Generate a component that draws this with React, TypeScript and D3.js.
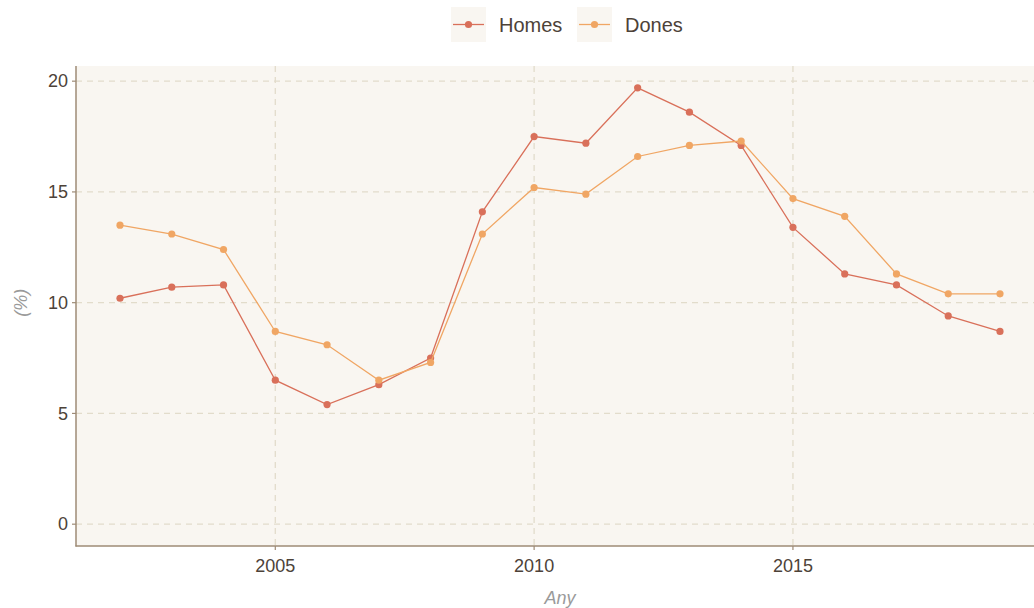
import * as d3 from "d3";

const years = [2002, 2003, 2004, 2005, 2006, 2007, 2008, 2009, 2010, 2011, 2012, 2013, 2014, 2015, 2016, 2017, 2018, 2019];
const homes = [10.2, 10.7, 10.8, 6.5, 5.4, 6.3, 7.5, 14.1, 17.5, 17.2, 19.7, 18.6, 17.1, 13.4, 11.3, 10.8, 9.4, 8.7];
const dones = [13.5, 13.1, 12.4, 8.7, 8.1, 6.5, 7.3, 13.1, 15.2, 14.9, 16.6, 17.1, 17.3, 14.7, 13.9, 11.3, 10.4, 10.4];
const seriesNames = ["Homes", "Dones"];
const xTicks = [2005, 2010, 2015];
const yTicks = [0, 5, 10, 15, 20];

const colors = ["#d9705a", "#f0a664"];
const font = "'Liberation Sans', Arial, sans-serif";

const W = 1034;
const H = 608;
const left = 76;
const top = 66;
const bottom = 546;

const App = () => {
  const x = d3.scaleLinear().domain([2001.15, 2019.85]).range([left, 1044]);
  const y = d3.scaleLinear().domain([-0.985, 20.685]).range([bottom, top]);

  const series = [homes, dones];
  const line = d3
    .line<number>()
    .x((_, i) => x(years[i]))
    .y((d) => y(d));

  const axisColor = "#9e8b76";
  const textColor = "#4d4238";
  const gridColor = "#e2dccb";

  return (
    <svg width={W} height={H} style={{ position: "absolute", left: 0, top: 0, background: "#fff" }} fontFamily={font}>
      {/* panel */}
      <rect x={left} y={top} width={W - left} height={bottom - top} fill="#f9f6f1" />

      {/* grid */}
      {yTicks.map((t) => (
        <line key={"gy" + t} x1={left} x2={W} y1={y(t)} y2={y(t)} stroke={gridColor} strokeWidth={1.3} strokeDasharray="6,5" />
      ))}
      {xTicks.map((t) => (
        <line key={"gx" + t} x1={x(t)} x2={x(t)} y1={top} y2={bottom} stroke={gridColor} strokeWidth={1.3} strokeDasharray="6,5" />
      ))}

      {/* series */}
      {series.map((s, k) => (
        <g key={seriesNames[k]}>
          <path d={line(s) ?? ""} fill="none" stroke={colors[k]} strokeWidth={1.3} />
          {s.map((v, i) => (
            <circle key={i} cx={x(years[i])} cy={y(v)} r={3.6} fill={colors[k]} />
          ))}
        </g>
      ))}

      {/* axes */}
      <line x1={left} x2={left} y1={top} y2={bottom + 0.5} stroke={axisColor} strokeWidth={1.5} />
      <line x1={left - 0.5} x2={W} y1={bottom} y2={bottom} stroke={axisColor} strokeWidth={1.5} />
      {yTicks.map((t) => (
        <g key={"ty" + t}>
          <line x1={left - 4} x2={left} y1={y(t)} y2={y(t)} stroke={axisColor} strokeWidth={1.2} />
          <text x={left - 8} y={y(t)} dy="0.35em" textAnchor="end" fontSize={18} fill={textColor}>
            {t}
          </text>
        </g>
      ))}
      {xTicks.map((t) => (
        <g key={"tx" + t}>
          <line x1={x(t)} x2={x(t)} y1={bottom} y2={bottom + 4} stroke={axisColor} strokeWidth={1.2} />
          <text x={x(t)} y={bottom + 26} textAnchor="middle" fontSize={18} fill={textColor}>
            {t}
          </text>
        </g>
      ))}

      {/* axis titles */}
      <text x={560} y={604} textAnchor="middle" fontSize={18} fontStyle="italic" fill="#9a9a9a">
        Any
      </text>
      <text transform={`translate(27,${y(10)}) rotate(-90)`} textAnchor="middle" fontSize={18} fontStyle="italic" fill="#9a9a9a">
        (%)
      </text>

      {/* legend */}
      {seriesNames.map((name, k) => {
        const kx = k === 0 ? 451 : 577;
        return (
          <g key={"lg" + name}>
            <rect x={kx} y={7} width={35} height={35} fill="#f9f6f1" />
            <line x1={kx + 2} x2={kx + 33} y1={24.5} y2={24.5} stroke={colors[k]} strokeWidth={1.3} />
            <circle cx={kx + 17.5} cy={24.5} r={3.6} fill={colors[k]} />
            <text x={kx + 48} y={24.5} dy="0.35em" fontSize={20} fill={textColor}>
              {name}
            </text>
          </g>
        );
      })}
    </svg>
  );
};

export default App;
